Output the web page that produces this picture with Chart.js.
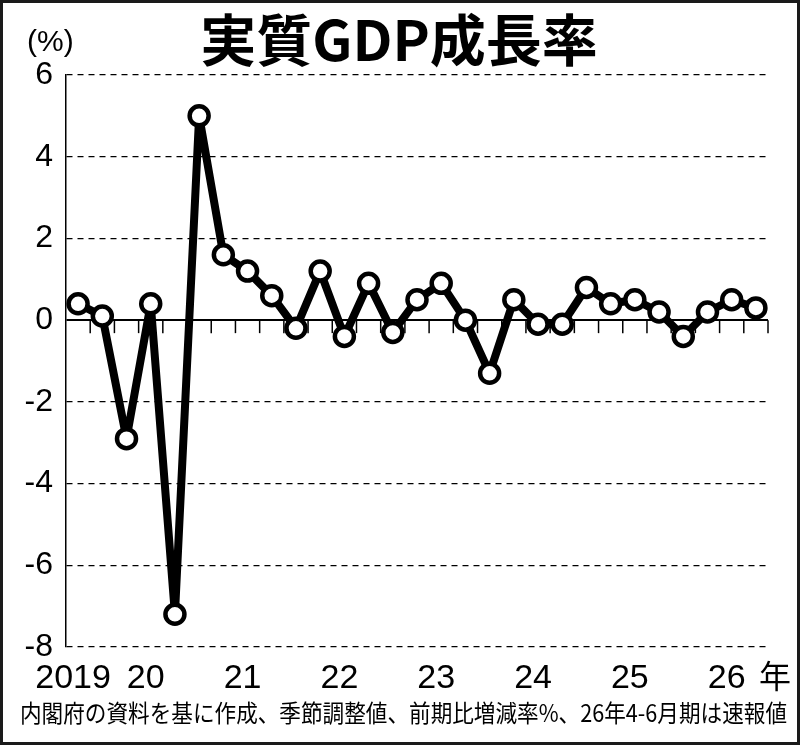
<!DOCTYPE html>
<html>
<head>
<meta charset="utf-8">
<script src="https://cdn.jsdelivr.net/npm/chart.js@4.4.0/dist/chart.umd.min.js"></script>
<style>
  html, body { margin: 0; padding: 0; background: #fff; }
  #wrap { width: 800px; height: 745px; }
</style>
</head>
<body>
<div id="wrap"><canvas id="gdpChart" width="800" height="745"></canvas></div>
<script>
// quarters, 2019 Apr-Jun .. 2026 Apr-Jun
const quarters = [
  '2019Q2', '2019Q3', '2019Q4',
  '2020Q1', '2020Q2', '2020Q3', '2020Q4',
  '2021Q1', '2021Q2', '2021Q3', '2021Q4',
  '2022Q1', '2022Q2', '2022Q3', '2022Q4',
  '2023Q1', '2023Q2', '2023Q3', '2023Q4',
  '2024Q1', '2024Q2', '2024Q3', '2024Q4',
  '2025Q1', '2025Q2', '2025Q3', '2025Q4',
  '2026Q1', '2026Q2'
];
// real GDP, q/q change (%)
const growth = [
  0.4, 0.1, -2.9,
  0.4, -7.2, 5.0, 1.6,
  1.2, 0.6, -0.2, 1.2,
  -0.4, 0.9, -0.3, 0.5,
  0.9, 0.0, -1.3, 0.5,
  -0.1, -0.1, 0.8, 0.4,
  0.5, 0.2, -0.4, 0.2,
  0.5, 0.3
];
const yearLabels = ['2019', '20', '21', '22', '23', '24', '25', '26'];
const yearAt = ['2019Q2', '2020Q1', '2021Q1', '2022Q1', '2023Q1', '2024Q1', '2025Q1', '2026Q1'];
const yMin = -8, yMax = 6, yStep = 2;

const titleText = '実質GDP成長率';
const unitText = '(%)';
const yearSuffix = '年';
const noteText = '内閣府の資料を基に作成、季節調整値、前期比増減率%、26年4-6月期は速報値';

const NUM_FONT = '"Liberation Sans", Arial, sans-serif';
const JP_FONT = '"Noto Sans CJK JP", "Noto Sans", sans-serif';

const zeroTicks = {
  id: 'zeroTicks',
  beforeDatasetsDraw(chart) {
    const { ctx, chartArea } = chart;
    const xs = chart.scales.x, ys = chart.scales.y;
    const y0 = ys.getPixelForValue(0);
    ctx.save();
    ctx.strokeStyle = '#000';
    ctx.lineWidth = 1.5;
    for (let i = 1; i <= quarters.length; i++) {
      const x = i < quarters.length
        ? (xs.getPixelForValue(i - 1) + xs.getPixelForValue(i)) / 2
        : chartArea.right;
      ctx.beginPath();
      ctx.moveTo(x, y0);
      ctx.lineTo(x, y0 + 13);
      ctx.stroke();
    }
    ctx.restore();
  }
};

const decorations = {
  id: 'decorations',
  afterDraw(chart) {
    const { ctx } = chart;
    const xs = chart.scales.x;
    ctx.save();
    ctx.fillStyle = '#000';

    // title
    ctx.font = 'bold 56px ' + JP_FONT;
    ctx.textAlign = 'center';
    ctx.textBaseline = 'middle';
    ctx.fillText(titleText, 399, 40);

    // unit
    ctx.font = '30px ' + NUM_FONT;
    ctx.textAlign = 'left';
    ctx.fillText(unitText, 27, 43);

    // year labels
    ctx.font = '34px ' + NUM_FONT;
    ctx.textAlign = 'center';
    ctx.textBaseline = 'alphabetic';
    yearLabels.forEach((lab, i) => {
      const x = xs.getPixelForValue(quarters.indexOf(yearAt[i])) - 5;
      ctx.fillText(lab, x, 688);
    });
    ctx.font = '32px ' + JP_FONT;
    ctx.textBaseline = 'middle';
    ctx.fillText(yearSuffix, 775, 676);

    // source note
    ctx.font = '24px ' + JP_FONT;
    ctx.textAlign = 'left';
    ctx.fillText(noteText, 20, 713, 767);

    // frame
    ctx.strokeStyle = '#1a1a1a';
    ctx.lineWidth = 3;
    ctx.strokeRect(1.5, 1.5, 797, 742);
    ctx.restore();
  }
};

new Chart(document.getElementById('gdpChart'), {
  type: 'line',
  data: {
    labels: quarters,
    datasets: [{
      data: growth,
      borderColor: '#000',
      borderWidth: 8,
      borderJoinStyle: 'round',
      pointRadius: 9.5,
      pointBorderWidth: 4.5,
      pointBackgroundColor: '#fff',
      pointBorderColor: '#000',
      tension: 0,
      clip: false
    }]
  },
  options: {
    responsive: false,
    animation: false,
    layout: { padding: { left: 6, right: 32, top: 75, bottom: 98 } },
    plugins: {
      legend: { display: false },
      tooltip: { enabled: false }
    },
    scales: {
      x: { type: 'category', offset: true, display: false },
      y: {
        min: yMin,
        max: yMax,
        ticks: {
          stepSize: yStep,
          color: '#000',
          padding: 13,
          font: { family: NUM_FONT, size: 32 }
        },
        grid: {
          color: '#000',
          drawTicks: false,
          lineWidth: c => (c.tick && c.tick.value === 0 ? 2 : 1.3)
        },
        border: {
          display: true,
          color: '#000',
          width: 1.5,
          dash: c => (c.tick && c.tick.value === 0 ? [] : [6, 5])
        },
        afterFit: s => { s.width = 60; }
      }
    }
  },
  plugins: [zeroTicks, decorations]
});
</script>
</body>
</html>
